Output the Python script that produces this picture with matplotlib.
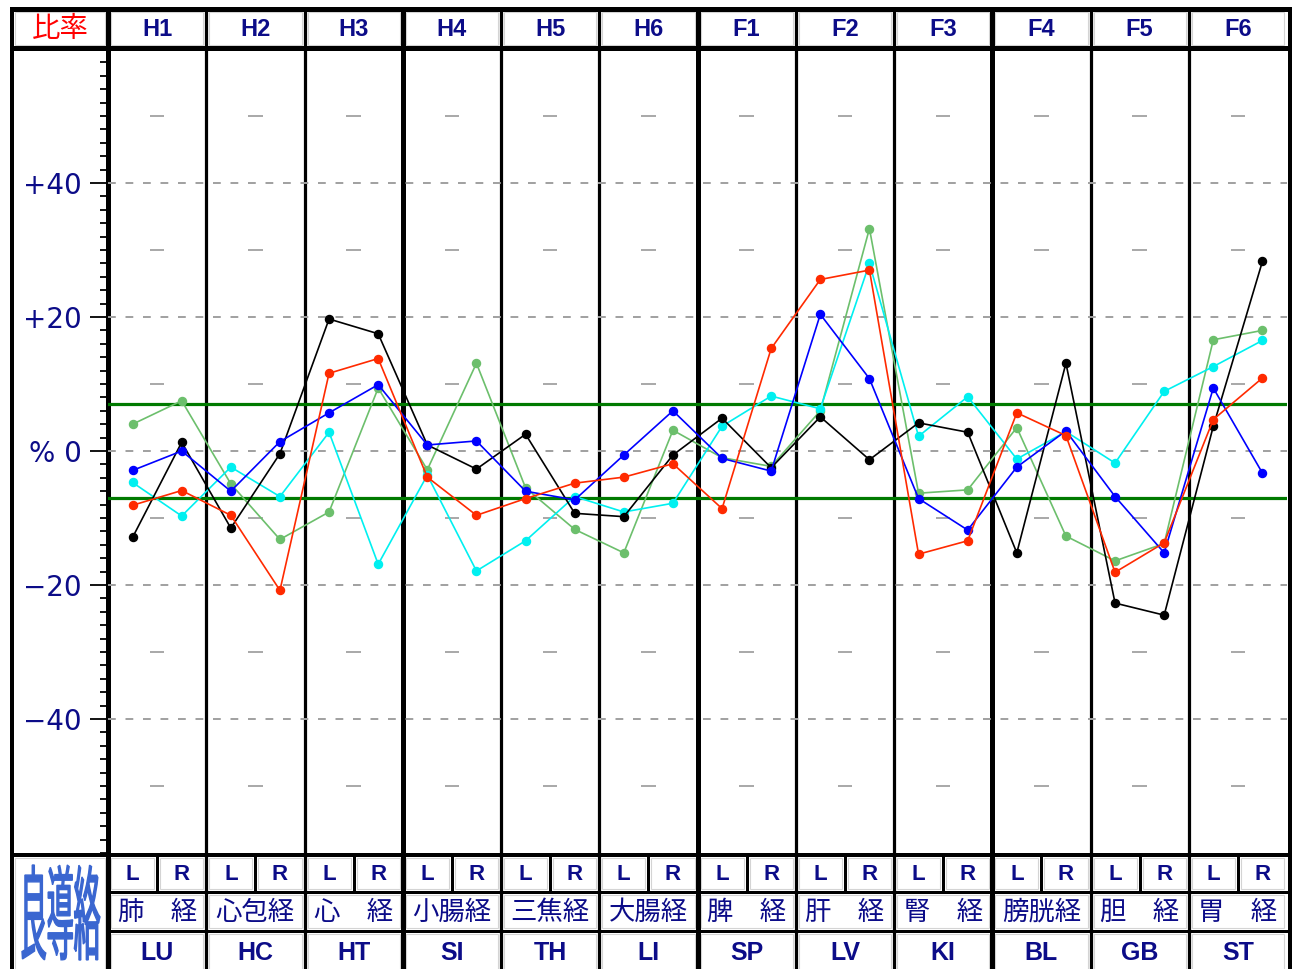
"""
Ryodoraku meridian ratio chart (H1-H6 / F1-F6, left and right)
"""
import numpy as np
import matplotlib
matplotlib.use('Agg')
import matplotlib.pyplot as plt
from matplotlib.patches import Rectangle, PathPatch
from matplotlib.textpath import TextPath
from matplotlib.font_manager import FontProperties
from matplotlib.transforms import Affine2D
from matplotlib.ticker import MultipleLocator, FixedLocator

# Chart data
columns = ['H1', 'H2', 'H3', 'H4', 'H5', 'H6', 'F1', 'F2', 'F3', 'F4', 'F5', 'F6']
abbrevs = ['LU', 'HC', 'HT', 'SI', 'TH', 'LI', 'SP', 'LV', 'KI', 'BL', 'GB', 'ST']
names_jp = ['肺　経', '心包経', '心　経', '小腸経', '三焦経', '大腸経',
            '脾　経', '肝　経', '腎　経', '膀胱経', '胆　経', '胃　経']
sides = ['L', 'R']
corner_label = '比率'
logo_text = '良導絡'

ytick_values = [40, 20, 0, -20, -40]
ytick_labels = ['+40', '+20', '% 0', '\u221220', '\u221240']
dash_levels = [-40, -20, 0, 20, 40]
mark_levels = [-50, -30, -10, 10, 30, 50]
band_limit = 7

# values per column, order: L, R  (24 points)
series_green = [4.0, 7.5, -4.9, -13.2, -9.1, 9.4, -2.8, 13.1, -5.5, -11.7, -15.2, 3.1,
                -1.0, -2.3, 6.0, 33.2, -6.3, -5.8, 3.5, -12.7, -16.4, -13.8, 16.6, 18.0]
series_cyan = [-4.7, -9.7, -2.4, -6.8, 2.8, -16.9, -3.6, -17.9, -13.4, -6.8, -9.1, -7.8,
               3.7, 8.2, 6.3, 28.0, 2.2, 8.1, -1.2, 2.9, -1.8, 8.9, 12.6, 16.5]
series_black = [-12.9, 1.3, -11.5, -0.4, 19.7, 17.5, 0.9, -2.7, 2.5, -9.3, -9.8, -0.6,
                4.9, -2.5, 5.1, -1.3, 4.2, 2.8, -15.2, 13.1, -22.7, -24.5, 3.7, 28.3]
series_blue = [-2.9, 0.0, -6.0, 1.4, 5.7, 9.9, 0.9, 1.5, -6.0, -7.3, -0.6, 6.0,
               -1.1, -3.0, 20.4, 10.8, -7.1, -11.8, -2.4, 3.0, -6.8, -15.2, 9.4, -3.3]
series_red = [-8.1, -5.9, -9.6, -20.8, 11.6, 13.8, -3.9, -9.6, -7.1, -4.8, -3.9, -1.9,
              -8.6, 15.3, 25.6, 27.0, -15.4, -13.4, 5.7, 2.3, -18.1, -13.7, 4.7, 10.9]

# Layout (pixels)
W, H = 1292, 969
OUT_L = 12
LEFT, RIGHT = 108, 1287
TOP = 8.5
HEAD_BOT = 47.5
PLOT_BOT = 855
ROW1, ROW2 = 892, 931
ZERO_Y, PX_PER_UNIT = 451, 6.7
col_w = (RIGHT - LEFT) / len(columns)

NAVY = '#0c0c88'
PT = 0.72  # px -> pt at 100 dpi

fig = plt.figure(figsize=(W / 100, H / 100), dpi=100)
fig.patch.set_facecolor('white')

# frame axes in pixel coordinates
fr = fig.add_axes([0, 0, 1, 1], zorder=0)
fr.set_xlim(0, W)
fr.set_ylim(H, 0)
fr.axis('off')

# data axes over the plot area
ax = fig.add_axes([LEFT / W, 1 - PLOT_BOT / H, (RIGHT - LEFT) / W, (PLOT_BOT - HEAD_BOT) / H], zorder=2)
ax.set_facecolor('none')
ax.set_xlim(0, len(columns))
ax.set_ylim((ZERO_Y - PLOT_BOT) / PX_PER_UNIT, (ZERO_Y - HEAD_BOT) / PX_PER_UNIT)
for sp in ax.spines.values():
    sp.set_visible(False)

# grid elements
for lv in dash_levels:
    ax.axhline(lv, color='#a0a0a0', lw=1.4, dashes=(4, 5), zorder=1)
centers = np.arange(len(columns)) + 0.5
for lv in mark_levels:
    ax.hlines([lv] * len(columns), centers - 0.075, centers + 0.075, color='#a8a8a8', lw=1.4, zorder=1)
ax.axhline(band_limit, color='#007a00', lw=2.3, zorder=2)
ax.axhline(-band_limit, color='#007a00', lw=2.3, zorder=2)

# series
xs = (np.arange(len(columns))[:, None] + np.array([0.25, 0.75])[None, :]).ravel()
for vals, col in [(series_green, '#6cbf6c'), (series_cyan, '#00f0f0'), (series_black, '#000000'),
                  (series_blue, '#0000ff'), (series_red, '#ff2a00')]:
    ax.plot(xs, vals, color=col, lw=1.2, marker='o', ms=5.8, mfc=col, mec=col, zorder=5)

# y axis ticks
ax.yaxis.set_major_locator(FixedLocator(ytick_values))
ax.set_yticklabels(ytick_labels)
ax.yaxis.set_minor_locator(MultipleLocator(2))
ax.tick_params(axis='y', which='major', length=13, width=1.3, pad=6, labelsize=20, labelcolor=NAVY)
ax.tick_params(axis='y', which='minor', length=6, width=1.3)
ax.set_xticks([])

# frame lines
def hline(y, x0, x1, px):
    fr.plot([x0, x1], [y, y], color='black', lw=px * PT, solid_capstyle='butt')

def vline(x, y0, y1, px):
    fr.plot([x, x], [y0, y1], color='black', lw=px * PT, solid_capstyle='butt')

# bevel boxes (light gray inner outline)
def cell(x0, y0, x1, y1):
    fr.add_patch(Rectangle((x0 + 3, y0 + 3), x1 - x0 - 6, y1 - y0 - 6, fill=False,
                           ec='#d4d4d4', lw=0.8))

cell(OUT_L, TOP, LEFT, HEAD_BOT)
for i in range(len(columns)):
    x0 = LEFT + i * col_w
    cell(x0, TOP, x0 + col_w, HEAD_BOT)
    cell(x0, PLOT_BOT, x0 + col_w / 2, ROW1)
    cell(x0 + col_w / 2, PLOT_BOT, x0 + col_w, ROW1)
    cell(x0, ROW1, x0 + col_w, ROW2)
    cell(x0, ROW2, x0 + col_w, H + 10)
cell(OUT_L, PLOT_BOT, LEFT, H + 10)

hline(TOP, OUT_L - 2, W, 5)
hline(HEAD_BOT, OUT_L - 2, W, 5)
hline(PLOT_BOT, OUT_L - 2, W, 4)
hline(ROW1, LEFT, W, 3)
hline(ROW2, LEFT, W, 3)
vline(OUT_L, TOP - 2, H, 4)
vline(LEFT, TOP - 2, H, 5)
vline(W - 2.5, TOP - 2, H, 5)
for k in range(1, len(columns)):
    vline(LEFT + k * col_w, TOP, H, 5 if k % 3 == 0 else 3.2)
for i in range(len(columns)):
    vline(LEFT + (i + 0.5) * col_w, PLOT_BOT, ROW1, 3)

# header
fr.text((OUT_L + LEFT) / 2, 29, corner_label, ha='center', va='center', fontsize=20.5,
        color='#ff0000', family='Noto Sans CJK JP')
for i, name in enumerate(columns):
    cx = LEFT + (i + 0.5) * col_w
    fr.text(cx, 29, name, ha='center', va='center', fontsize=17, fontweight='bold',
            color=NAVY, family='Liberation Sans')
    for j, s in enumerate(sides):
        fr.text(LEFT + (i + 0.25 + 0.5 * j) * col_w, 875, s, ha='center', va='center',
                fontsize=16, fontweight='bold', color=NAVY, family='Liberation Sans')
    fr.text(cx, 912, names_jp[i], ha='center', va='center', fontsize=19,
            color=NAVY, family='Noto Sans CJK JP')
    fr.text(cx, 953, abbrevs[i], ha='center', va='center', fontsize=18, fontweight='bold',
            color=NAVY, family='Liberation Sans')

# logo, stretched to fill the cell
tp = TextPath((0, 0), logo_text, size=1, prop=FontProperties(family='Noto Sans CJK JP'))
bb = tp.get_extents()
lx0, lx1, ly0, ly1 = 22, 100, 865, 960
tr = Affine2D().translate(-bb.x0, -bb.y0).scale((lx1 - lx0) / bb.width, -(ly1 - ly0) / bb.height).translate(lx0, ly1)
fr.add_patch(PathPatch(tr.transform_path(tp), fc='#3a66d0', ec='#3a66d0', lw=1.0))

fig.savefig('out.png', dpi=100)
